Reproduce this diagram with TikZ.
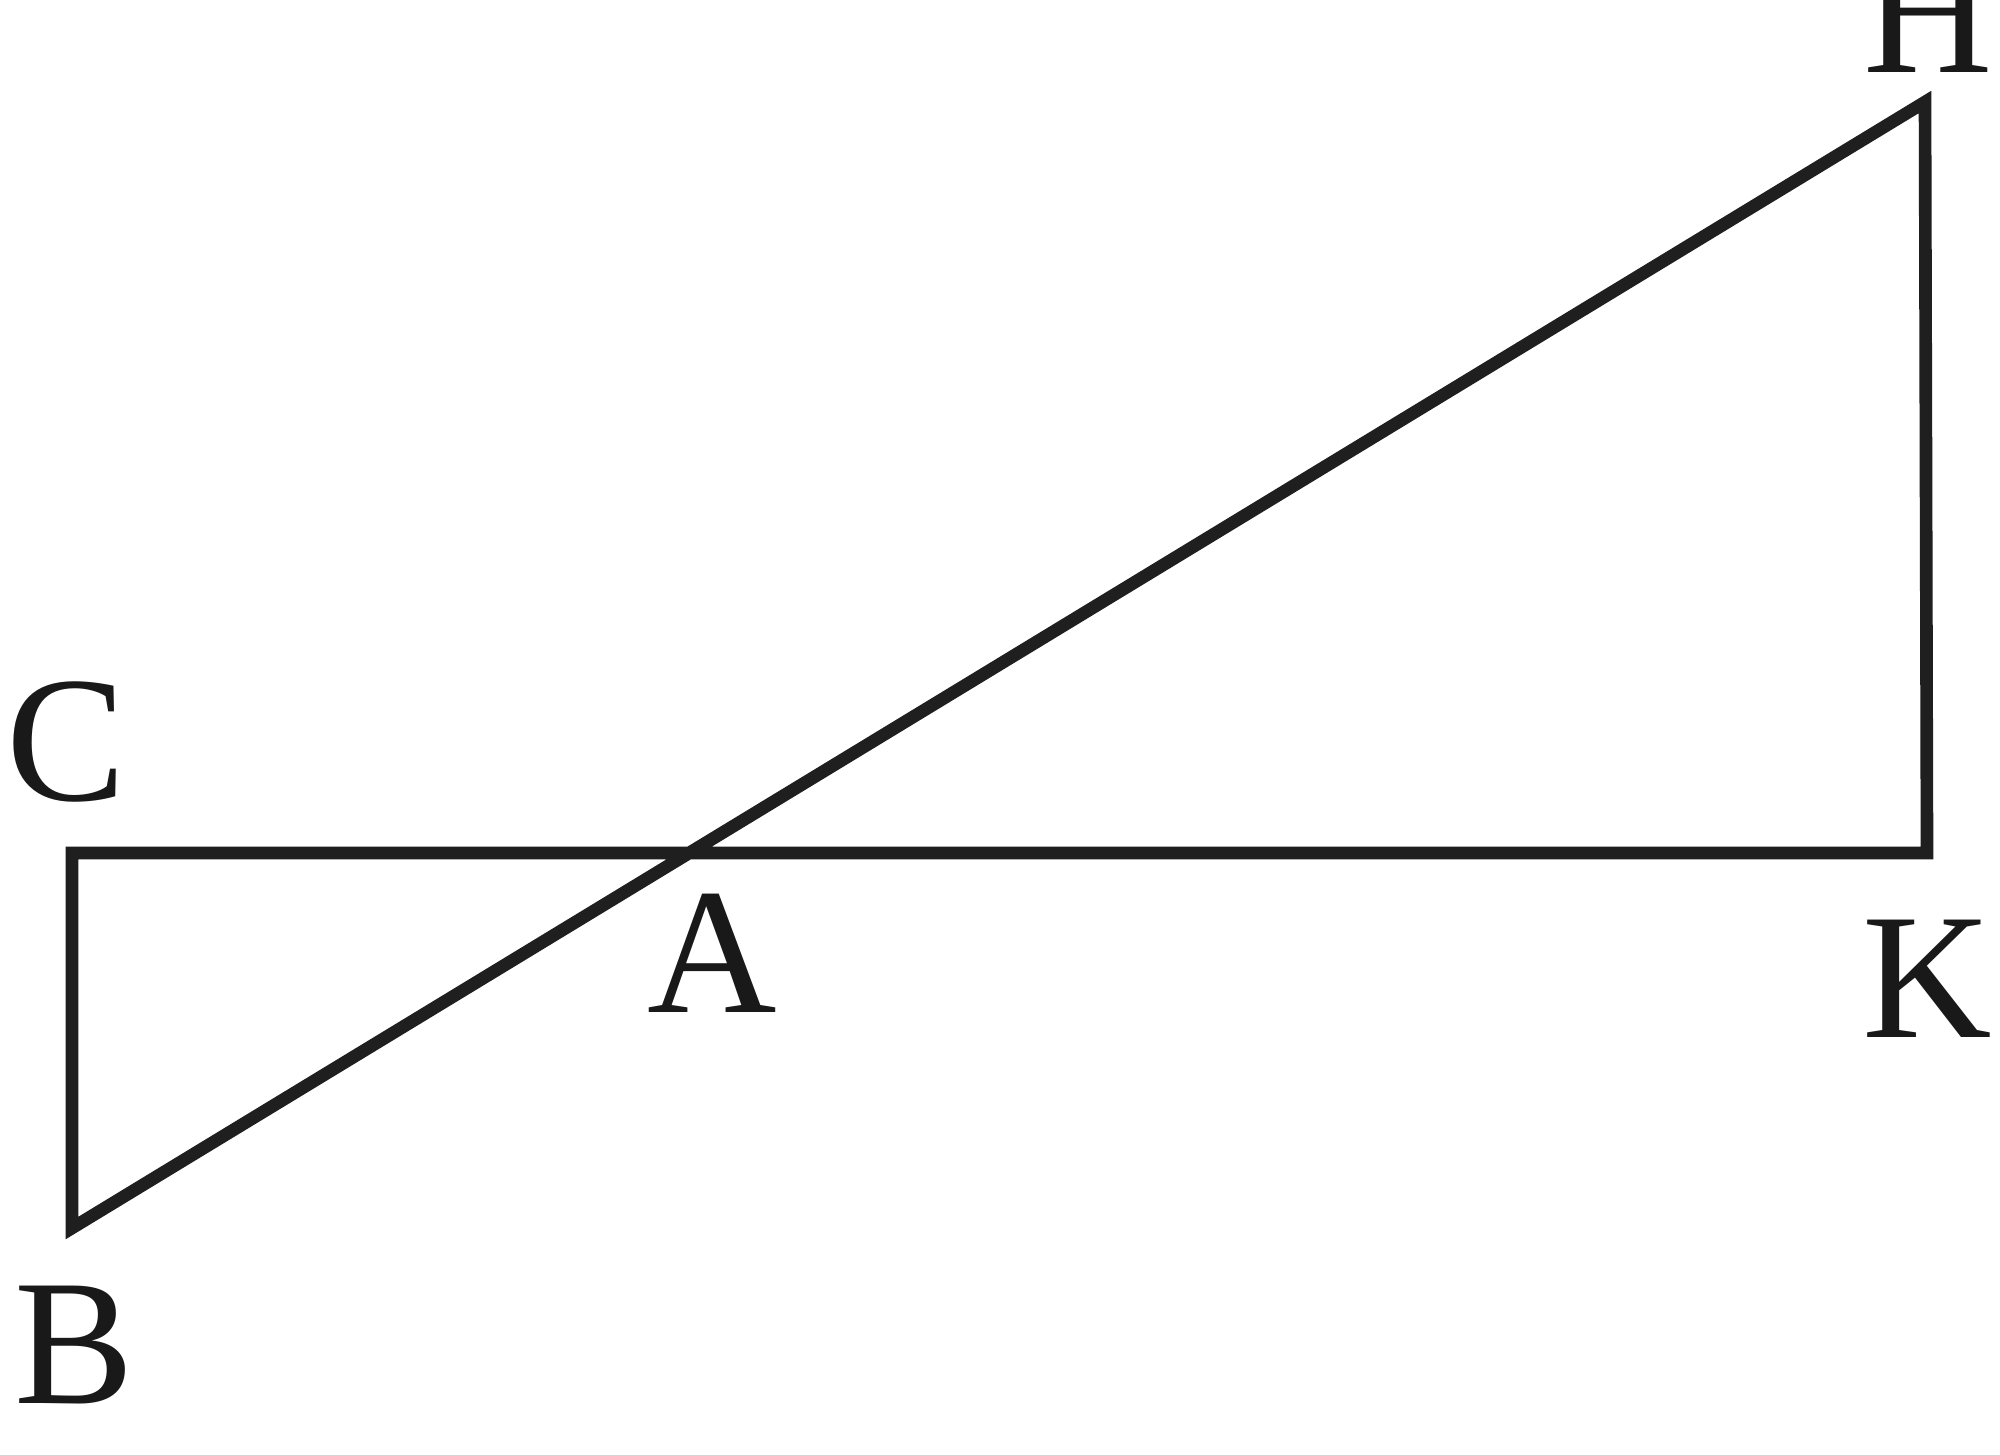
\documentclass[tikz,border=0pt]{standalone}
\usepackage{fontspec}
\setmainfont{Liberation Serif}
\begin{document}
\begin{tikzpicture}[x=0.01cm,y=-0.01cm,
  edge/.style={line width=3.6pt,line join=miter,color=black!88},
  lbl/.style={anchor=base,inner sep=0pt,font=\fontsize{51}{51}\selectfont,text=black!90}]
\useasboundingbox[fill=white] (0,0) rectangle (2000,1454);
\coordinate (C) at (72,853);
\coordinate (K) at (1927,853);
\coordinate (H) at (1925,102);
\coordinate (B) at (72,1228);
\coordinate (A) at (688,853);
\draw[edge] (C) -- (K) -- (H) -- (B) -- cycle;
\node[lbl] (lH) at (1928,72) {H};
\node[lbl] (lC) at (66,800) {C};
\node[lbl] (lA) at (712,1012) {A};
\node[lbl] (lK) at (1927,1037) {K};
\node[lbl] (lB) at (74,1403) {B};
\end{tikzpicture}
\end{document}
